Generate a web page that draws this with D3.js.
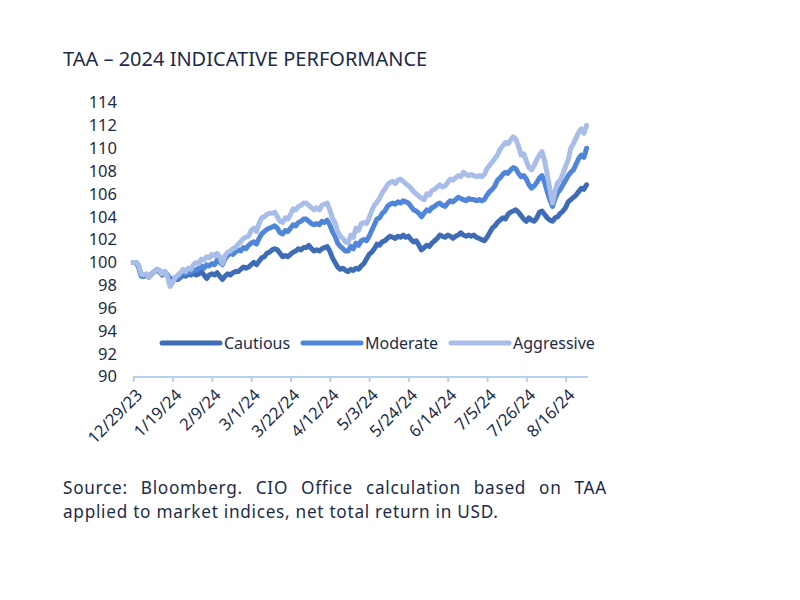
<!DOCTYPE html>
<html><head><meta charset="utf-8">
<script src="https://cdn.jsdelivr.net/npm/d3@7"></script>
<style>body{margin:0;background:#fff}svg{display:block}</style>
</head><body><svg id="c" width="800" height="600"></svg>
<script>
const titleText = "TAA \u2013 2024 INDICATIVE PERFORMANCE";
const sourceLines = ["Source: Bloomberg. CIO Office calculation based on TAA", "applied to market indices, net total return in USD."];
const seriesNames = ["Cautious", "Moderate", "Aggressive"];
const seriesColors = ["#3f6db5", "#4f86da", "#a9bde9"];
const tickLabels = ["12/29/23","1/19/24","2/9/24","3/1/24","3/22/24","4/12/24","5/3/24","5/24/24","6/14/24","7/5/24","7/26/24","8/16/24"];
const tickEvery = 15;
const yTicks = [90,92,94,96,98,100,102,104,106,108,110,112,114];

const cautious = [
100.0,100.0,99.7,98.9,98.8,98.9,98.8,99.0,99.2,99.3,
99.2,98.9,99.1,98.9,98.6,98.5,98.6,98.5,98.7,98.9,
98.8,99.0,98.9,99.1,98.9,99.0,99.2,98.9,98.6,98.9,
99.0,98.9,99.1,98.8,98.5,98.8,99.0,98.9,99.1,99.2,
99.2,99.4,99.6,99.5,99.6,99.8,100.0,99.8,100.1,100.4,
100.5,100.8,100.9,101.1,101.2,101.1,100.8,100.5,100.6,100.5,
100.7,100.9,101.0,101.2,101.1,101.3,101.3,101.5,101.2,101.0,
101.1,101.0,101.2,101.3,101.4,101.0,100.4,100.0,99.6,99.4,
99.5,99.3,99.2,99.4,99.3,99.5,99.4,99.7,99.9,100.3,
100.7,100.9,101.2,101.6,101.5,101.8,101.9,102.1,102.3,102.2,
102.1,102.3,102.2,102.4,102.2,102.3,102.0,101.8,101.9,101.5,
101.1,101.3,101.5,101.4,101.7,101.9,102.1,102.4,102.3,102.2,
102.4,102.3,102.1,102.3,102.4,102.6,102.4,102.3,102.4,102.3,
102.4,102.2,102.1,102.0,101.9,102.2,102.6,103.0,103.2,103.5,
103.7,103.9,103.8,104.2,104.4,104.5,104.6,104.4,104.1,103.8,
103.6,103.9,103.7,103.6,103.9,104.4,104.5,104.2,103.9,103.7,
103.6,103.9,104.0,104.3,104.5,104.8,105.3,105.5,105.7,105.9,
106.2,106.5,106.4,106.8];

const moderate = [
100.0,100.0,99.6,98.8,98.8,98.9,98.7,99.0,99.2,99.4,
99.3,99.0,99.2,98.9,98.3,98.4,98.7,98.6,98.9,99.1,
99.0,99.2,99.1,99.4,99.3,99.5,99.7,99.5,99.8,99.7,
99.9,99.8,100.2,100.0,99.8,100.3,100.6,100.8,100.7,100.9,
101.1,101.0,101.3,101.2,101.5,101.7,101.8,101.6,102.1,102.5,
102.7,102.9,103.0,103.1,103.2,103.0,102.6,102.5,102.8,102.7,
103.0,103.3,103.2,103.5,103.6,103.8,103.8,103.6,103.4,103.3,
103.4,103.3,103.6,103.5,103.7,103.3,102.7,102.3,101.7,101.4,
101.2,101.0,101.0,101.4,101.2,101.7,101.5,101.9,102.0,101.9,
102.3,102.8,103.3,103.8,103.9,104.3,104.5,104.9,105.1,105.2,
105.1,105.3,105.2,105.4,105.3,105.2,104.9,104.6,104.5,104.3,
104.0,104.3,104.6,104.5,104.8,104.9,105.1,105.2,105.0,104.9,
105.2,105.4,105.3,105.5,105.7,105.6,105.5,105.4,105.6,105.5,
105.5,105.4,105.5,105.4,105.5,105.9,106.2,106.4,106.7,107.2,
107.4,107.7,107.9,107.8,108.1,108.3,108.2,107.8,107.5,107.6,
107.3,106.8,106.5,106.7,107.0,107.4,107.6,107.0,106.2,105.5,
104.9,105.6,106.1,106.4,106.8,107.2,107.6,107.9,108.1,108.6,
109.1,109.4,109.2,110.0];

const aggressive = [
100.0,100.0,99.8,99.0,98.9,99.0,98.7,99.0,99.2,99.4,
99.3,99.0,99.2,98.8,97.9,98.2,98.7,98.9,99.1,99.4,
99.2,99.5,99.4,99.8,100.0,99.9,100.3,100.2,100.5,100.4,
100.7,100.6,100.8,100.5,99.9,100.6,100.9,101.0,101.2,101.3,
101.6,101.8,102.1,102.2,102.3,102.8,103.0,102.7,103.4,103.9,
104.0,104.2,104.3,104.3,104.4,104.0,103.6,103.5,103.9,103.8,
104.2,104.7,104.6,104.9,105.0,105.2,105.2,105.0,104.8,104.6,
104.8,104.6,105.0,105.1,105.2,104.6,103.9,103.5,102.7,102.3,
102.1,101.8,101.7,102.4,102.2,103.0,102.8,103.4,103.5,103.4,
103.9,104.5,105.0,105.3,105.6,106.1,106.4,106.8,107.0,107.1,
106.9,107.2,107.3,107.1,106.9,106.7,106.5,106.2,106.0,105.8,
105.6,105.5,106.0,105.9,106.3,106.4,106.6,106.8,106.6,106.7,
107.0,107.3,107.2,107.4,107.6,107.5,107.9,107.7,107.6,107.7,
107.6,107.5,107.6,107.5,107.7,108.2,108.5,108.8,109.1,109.4,
109.9,110.2,110.5,110.4,110.7,111.0,110.8,110.2,109.4,109.5,
108.9,108.3,108.1,108.5,109.0,109.4,109.7,108.9,107.7,106.4,
105.2,106.3,107.0,107.2,107.8,108.4,109.0,110.0,110.4,110.9,
111.4,111.7,111.3,112.0];

const seriesData = [cautious, moderate, aggressive];
const N = cautious.length;
const FONT = "'Noto Sans', sans-serif";
const TXT = "#1d2b4b";

const svg = d3.select("#c");
const x = d3.scaleLinear().domain([0, N - 1]).range([133.3, 133.3 + (N - 1) * 2.62]);
const y = d3.scaleLinear().domain([90, 114]).range([376.7, 102.5]);

// title
svg.append("text").attr("x", 63).attr("y", 65.7)
  .attr("font-family", FONT).attr("font-size", 20).attr("fill", TXT)
  .text(titleText);

// y axis labels
const ya = svg.append("g").attr("transform", "translate(133,0)")
  .call(d3.axisLeft(y).tickValues(yTicks).tickSize(0).tickPadding(16).tickFormat(d3.format("d")));
ya.select(".domain").remove();
ya.selectAll("text").attr("font-family", FONT).attr("font-size", 16.5).attr("fill", TXT);

// x axis
const tickIdx = tickLabels.map((d, i) => i * tickEvery);
const xa = svg.append("g").attr("transform", "translate(0,377)")
  .call(d3.axisBottom(x).tickValues(tickIdx).tickSize(5).tickFormat(""));
xa.select(".domain").attr("d", `M133,0H${x(N - 1) + 1.5}`).attr("stroke", "#b8d0f0").attr("stroke-width", 2);
xa.selectAll(".tick line").attr("stroke", "#b8d0f0").attr("stroke-width", 2);
svg.append("g").selectAll("text").data(tickLabels).join("text")
  .attr("transform", (d, i) => `translate(${x(tickIdx[i]) + 6},${392}) rotate(-45)`)
  .attr("text-anchor", "end").attr("dy", "0.35em")
  .attr("font-family", FONT).attr("font-size", 16.5).attr("fill", TXT)
  .text(d => d);

// lines
const line = d3.line().x((d, i) => x(i)).y(d => y(d));
svg.append("g").selectAll("path").data(seriesData).join("path")
  .attr("d", line).attr("fill", "none")
  .attr("stroke", (d, i) => seriesColors[i]).attr("stroke-width", 5)
  .attr("stroke-linejoin", "round").attr("stroke-linecap", "round");

// legend
const legX = [162, 303, 451];
const lg = svg.append("g").selectAll("g").data(seriesNames).join("g")
  .attr("transform", (d, i) => `translate(${legX[i]},343)`);
lg.append("line").attr("x1", 0).attr("x2", 58).attr("y1", 0).attr("y2", 0)
  .attr("stroke", (d, i) => seriesColors[i]).attr("stroke-width", 5).attr("stroke-linecap", "round");
lg.append("text").attr("x", 62).attr("y", 0).attr("dy", "0.35em")
  .attr("font-family", FONT).attr("font-size", 16).attr("fill", TXT).text(d => d);

// source
const src = svg.append("g");
sourceLines.forEach((s, i) => {
  const t = src.append("text").attr("x", 63).attr("y", 494 + i * 23.5)
    .attr("font-family", FONT).attr("font-size", 17.2).attr("letter-spacing", 0.72)
    .attr("fill", TXT).text(s);
  if (i === 0) {
    const w = t.node().getComputedTextLength();
    const spaces = (s.match(/ /g) || []).length;
    const target = 607 - 63;
    t.attr("word-spacing", (target - w) / spaces);
  }
});
</script></body></html>
